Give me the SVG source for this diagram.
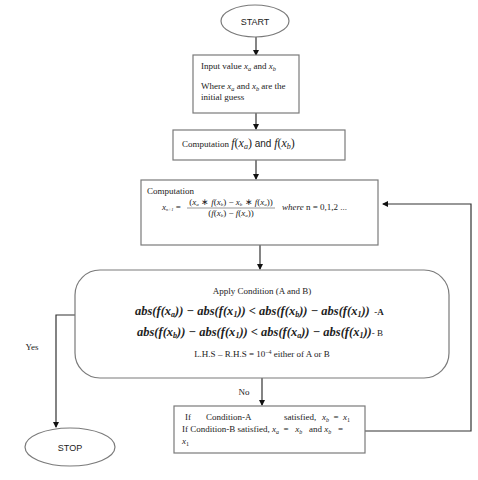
<svg xmlns="http://www.w3.org/2000/svg" width="478" height="480" viewBox="0 0 478 480">
<style>
.box{fill:#fff;stroke:#7a7a7a;stroke-width:1.2}
.ln{fill:none;stroke:#333;stroke-width:1.2}
.t{font-family:"Liberation Serif",serif;font-size:9px;fill:#222}
.s{font-family:"Liberation Sans",Arial,sans-serif;font-size:9px;fill:#222}
.m{font-family:"Liberation Serif",serif;font-style:italic}
.b{font-family:"Liberation Serif",serif;font-size:12.5px;font-weight:bold;font-style:italic;fill:#222}
.sub{font-size:70%}
</style>
<defs>
<marker id="ah" markerWidth="6" markerHeight="6" refX="5" refY="3" orient="auto" markerUnits="userSpaceOnUse">
<path d="M0,0 L6,3 L0,6 z" fill="#111"/>
</marker>
</defs>
<rect width="478" height="480" fill="#fff"/>
<g id="connectors">
<line class="ln" x1="256" y1="37" x2="256" y2="55" marker-end="url(#ah)"/>
<line class="ln" x1="256" y1="113" x2="256" y2="129" marker-end="url(#ah)"/>
<line class="ln" x1="256" y1="160" x2="256" y2="179" marker-end="url(#ah)"/>
<line class="ln" x1="260" y1="245" x2="260" y2="269" marker-end="url(#ah)"/>
<line class="ln" x1="262" y1="378" x2="262" y2="405" marker-end="url(#ah)"/>
<polyline class="ln" points="75,315 56,315 56,427" marker-end="url(#ah)"/>
<polyline class="ln" points="365,431 471,431 471,204 383,204" marker-end="url(#ah)"/>
<text class="t" x="244" y="395" text-anchor="middle" font-size="8">No</text>
<text class="t" x="32" y="350" text-anchor="middle" font-size="8">Yes</text>
</g>
<g id="start">
<ellipse class="box" cx="255" cy="21" rx="34" ry="16"/>
<text class="s" x="255" y="24.5" text-anchor="middle">START</text>
</g>
<g id="input">
<rect class="box" x="193" y="55" width="106" height="58"/>
<text class="t" x="201" y="69">Input value <tspan class="m">x</tspan><tspan class="m sub" dy="1.5">a</tspan><tspan dy="-1.5"> and </tspan><tspan class="m">x</tspan><tspan class="m sub" dy="1.5">b</tspan></text>
<text class="t" x="201" y="89">Where <tspan class="m">x</tspan><tspan class="m sub" dy="1.5">a</tspan><tspan dy="-1.5"> and </tspan><tspan class="m">x</tspan><tspan class="m sub" dy="1.5">b</tspan><tspan dy="-1.5"> are the</tspan></text>
<text class="t" x="201" y="100">initial guess</text>
</g>
<g id="compute-f">
<rect class="box" x="173" y="130" width="172" height="30"/>
<text class="t" x="182" y="147" font-size="9.5">Computation <tspan class="m" font-size="12">f</tspan><tspan font-size="12">(</tspan><tspan class="m" font-size="12">x</tspan><tspan class="m" font-size="8" dy="1.5">a</tspan><tspan font-size="12" dy="-1.5">)</tspan><tspan font-family="Liberation Sans,sans-serif" font-size="10"> and </tspan><tspan class="m" font-size="12">f</tspan><tspan font-size="12">(</tspan><tspan class="m" font-size="12">x</tspan><tspan class="m" font-size="8" dy="1.5">b</tspan><tspan font-size="12" dy="-1.5">)</tspan></text>
</g>
<g id="compute-x">
<rect class="box" x="141" y="180" width="237" height="65"/>
<text class="t" x="147" y="194" font-size="9.5">Computation</text>
<text class="t" x="162" y="210" font-size="6.5"><tspan class="m">x</tspan><tspan class="m" font-size="4.5" dy="1">n+1</tspan><tspan dy="-1"> =</tspan></text>
<text class="t" x="231" y="205" font-size="7" text-anchor="middle">(<tspan class="m">x</tspan><tspan class="m" font-size="5" dy="1">a</tspan><tspan dy="-1"> ∗ </tspan><tspan class="m">f</tspan>(<tspan class="m">x</tspan><tspan class="m" font-size="5" dy="1">b</tspan><tspan dy="-1">) − </tspan><tspan class="m">x</tspan><tspan class="m" font-size="5" dy="1">b</tspan><tspan dy="-1"> ∗ </tspan><tspan class="m">f</tspan>(<tspan class="m">x</tspan><tspan class="m" font-size="5" dy="1">a</tspan><tspan dy="-1">))</tspan></text>
<line x1="187" y1="208" x2="275" y2="208" stroke="#333" stroke-width="0.5"/>
<text class="t" x="231" y="216" font-size="7" text-anchor="middle">(<tspan class="m">f</tspan>(<tspan class="m">x</tspan><tspan class="m" font-size="5" dy="1">b</tspan><tspan dy="-1">) − </tspan><tspan class="m">f</tspan>(<tspan class="m">x</tspan><tspan class="m" font-size="5" dy="1">a</tspan><tspan dy="-1">))</tspan></text>
<text class="t" x="282" y="210" font-size="6.5"><tspan class="m">where</tspan> n = 0,1,2 ...</text>
</g>
<g id="condition">
<rect class="box" x="75" y="270" width="374" height="108" rx="25" ry="25"/>
<text class="t" x="262" y="294" text-anchor="middle" font-size="9.5">Apply Condition (A and B)</text>
<text class="b" x="135" y="315">abs(f(x<tspan font-size="8" dy="1.5">a</tspan><tspan dy="-1.5">)) − abs(f(x</tspan><tspan font-size="8" dy="1.5">1</tspan><tspan dy="-1.5">)) &lt; abs(f(x</tspan><tspan font-size="8" dy="1.5">b</tspan><tspan dy="-1.5">)) − abs(f(x</tspan><tspan font-size="8" dy="1.5">1</tspan><tspan dy="-1.5">))</tspan><tspan font-style="normal" font-size="9">&#160; -A</tspan></text>
<text class="b" x="137" y="336">abs(f(x<tspan font-size="8" dy="1.5">b</tspan><tspan dy="-1.5">)) − abs(f(x</tspan><tspan font-size="8" dy="1.5">1</tspan><tspan dy="-1.5">)) &lt; abs(f(x</tspan><tspan font-size="8" dy="1.5">a</tspan><tspan dy="-1.5">)) − abs(f(x</tspan><tspan font-size="8" dy="1.5">1</tspan><tspan dy="-1.5">))</tspan><tspan font-style="normal" font-weight="normal" font-size="9">- B</tspan></text>
<text class="t" x="262" y="357" text-anchor="middle" font-size="9.5">L.H.S – R.H.S = 10<tspan font-size="6" dy="-3.5">−4</tspan><tspan dy="3.5"> either of A or B</tspan></text>
</g>
<g id="update">
<rect class="box" x="174" y="406" width="191" height="47"/>
<text class="t" x="185" y="420" font-size="8.5">If</text>
<text class="t" x="206" y="420" font-size="8.5">Condition-A</text>
<text class="t" x="284" y="420" font-size="8.5">satisfied,</text>
<text class="t" x="322" y="420" font-size="8.5"><tspan class="m">x</tspan><tspan class="m" font-size="6" dy="1.5">b</tspan><tspan dy="-1.5">&#160; =&#160; </tspan><tspan class="m">x</tspan><tspan font-size="6" dy="1.5">1</tspan></text>
<text class="t" x="182" y="432" font-size="8.5">If Condition-B satisfied, <tspan class="m">x</tspan><tspan class="m" font-size="6" dy="1.5">a</tspan><tspan dy="-1.5">&#160; =&#160;&#160; </tspan><tspan class="m">x</tspan><tspan class="m" font-size="6" dy="1.5">b</tspan><tspan dy="-1.5">&#160;&#160; and </tspan><tspan class="m">x</tspan><tspan class="m" font-size="6" dy="1.5">b</tspan><tspan dy="-1.5">&#160;&#160; =</tspan></text>
<text class="t" x="182" y="444" font-size="8.5"><tspan class="m">x</tspan><tspan font-size="6" dy="1.5">1</tspan></text>
</g>
<g id="stop">
<ellipse class="box" cx="70" cy="447" rx="45" ry="19"/>
<text class="s" x="70" y="450.5" text-anchor="middle">STOP</text>
</g>
</svg>
